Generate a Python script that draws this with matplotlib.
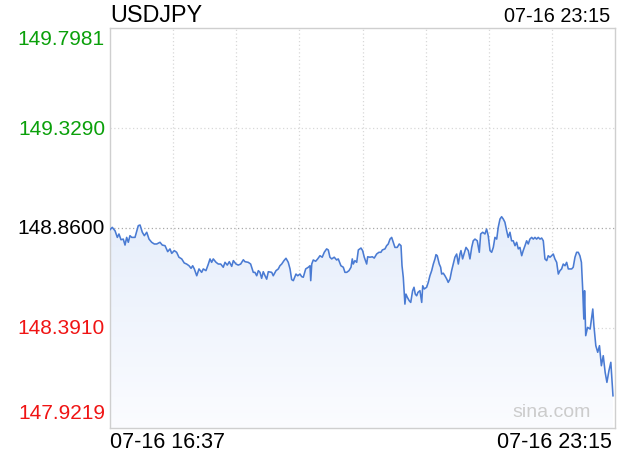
import numpy as np
import matplotlib
matplotlib.use("Agg")
import matplotlib.pyplot as plt
from matplotlib.colors import LinearSegmentedColormap
from matplotlib.patches import PathPatch

plt.rcParams['font.family'] = ['Liberation Sans', 'DejaVu Sans']

symbol = "USDJPY"
start_label = "07-16 16:37"
end_label = "07-16 23:15"
watermark = "sina.com"

# minutes since 16:37
minutes = [0, 1.8, 4.0, 5.8, 7.1, 8.7, 10.5, 11.9, 13.2, 14.5, 15.8, 17.2, 19.8, 22.4, 23.8, 25.6,
           27.2, 29.1, 30.9, 33.0, 35.1, 37.0, 39.6, 41.4, 43.6, 45.7, 47.5, 48.9, 50.9, 52.8, 54.6,
           56.8, 58.8, 60.7, 62.6, 64.2, 65.5, 66.8, 68.7, 70.5, 72.6, 73.9, 76.0, 77.9, 79.2, 80.5,
           81.8, 84.0, 85.8, 87.7, 89.7, 91.1, 92.9, 94.5, 96.4, 97.7, 99.8, 101.6, 103.5, 105.6,
           106.9, 109.5, 111.4, 113.5, 114.8, 116.2, 117.5, 118.8, 120.1, 121.4, 122.8, 124.1, 125.4,
           128.1, 129.3, 131.5, 133.3, 134.6, 136.0, 137.8, 139.4, 141.2, 142.6, 143.9, 145.2, 147.3,
           148.7, 150.5, 151.8, 153.1, 155.0, 157.1, 158.4, 159.0, 159.8, 161.0, 162.9, 164.5, 166.3,
           168.1, 169.7, 171.6, 172.9, 174.2, 175.6, 177.6, 179.5, 180.8, 182.9, 184.8, 186.1, 187.5,
           189.3, 190.9, 191.9, 192.7, 194.0, 195.4, 196.7, 198.8, 200.1, 201.4, 203.3, 204.1, 205.9,
           207.8, 209.3, 211.2, 213.0, 214.6, 215.7, 217.8, 219.1, 220.4, 221.8, 223.1, 224.4, 225.7,
           227.5, 229.1, 230.5, 231.3, 232.3, 233.6, 234.4, 235.5, 237.0, 238.2, 239.7, 240.8, 241.8,
           242.9, 243.9, 245.5, 246.9, 247.7, 248.9, 250.8, 252.1, 253.4, 254.8, 256.1, 257.4, 258.2,
           259.2, 260.8, 261.9, 262.7, 264.0, 265.3, 266.7, 267.9, 269.3, 270.6, 271.9, 273.2, 274.6,
           275.9, 277.2, 278.0, 279.3, 280.4, 282.0, 283.8, 285.1, 286.5, 287.7, 289.1, 290.9, 292.5,
           293.6, 295.2, 297.0, 298.3, 299.6, 301.0, 302.3, 303.6, 304.9, 306.3, 307.5, 308.9, 310.2,
           311.5, 312.8, 314.2, 315.4, 316.8, 318.1, 319.4, 320.8, 322.1, 323.4, 324.7, 326.1, 327.3,
           328.7, 330.0, 331.3, 332.6, 334.0, 335.3, 336.6, 337.9, 339.2, 340.6, 341.9, 343.2, 344.5,
           345.9, 347.1, 348.5, 349.8, 351.1, 352.4, 353.8, 355.1, 356.4, 357.7, 359.0, 360.4, 361.7,
           363.0, 364.3, 365.7, 366.9, 368.3, 369.6, 370.9, 372.2, 373.4, 374.4, 375.3, 375.9, 376.8,
           378.3, 380.3, 382.4, 383.3, 384.8, 386.3, 387.7, 389.2, 390.7, 392.2, 393.6, 395.2, 396.7,
           398.4]

prices = [148.852, 148.863, 148.847, 148.816, 148.832, 148.805, 148.808, 148.780, 148.816, 148.793,
          148.824, 148.816, 148.816, 148.871, 148.874, 148.840, 148.824, 148.840, 148.808, 148.793,
          148.785, 148.785, 148.793, 148.780, 148.777, 148.749, 148.762, 148.741, 148.754, 148.746,
          148.723, 148.715, 148.696, 148.691, 148.683, 148.671, 148.683, 148.668, 148.636, 148.668,
          148.652, 148.668, 148.660, 148.691, 148.715, 148.699, 148.715, 148.699, 148.691, 148.691,
          148.676, 148.699, 148.686, 148.702, 148.680, 148.707, 148.691, 148.686, 148.691, 148.711,
          148.702, 148.699, 148.691, 148.652, 148.652, 148.636, 148.660, 148.652, 148.624, 148.655,
          148.636, 148.620, 148.655, 148.652, 148.636, 148.660, 148.668, 148.683, 148.691, 148.707,
          148.718, 148.699, 148.668, 148.618, 148.613, 148.644, 148.636, 148.644, 148.632, 148.629,
          148.668, 148.676, 148.683, 148.613, 148.691, 148.710, 148.704, 148.715, 148.730, 148.723,
          148.746, 148.762, 148.757, 148.723, 148.715, 148.723, 148.710, 148.715, 148.683, 148.676,
          148.652, 148.652, 148.660, 148.676, 148.715, 148.691, 148.707, 148.699, 148.757, 148.766,
          148.754, 148.723, 148.691, 148.725, 148.723, 148.725, 148.719, 148.738, 148.746, 148.746,
          148.757, 148.762, 148.777, 148.785, 148.808, 148.816, 148.793, 148.769, 148.769, 148.785,
          148.777, 148.683, 148.629, 148.503, 148.550, 148.535, 148.519, 148.511, 148.566, 148.582,
          148.550, 148.542, 148.558, 148.566, 148.511, 148.589, 148.574, 148.582, 148.605, 148.636,
          148.660, 148.691, 148.715, 148.735, 148.730, 148.691, 148.676, 148.644, 148.648, 148.636,
          148.621, 148.605, 148.621, 148.660, 148.691, 148.723, 148.738, 148.691, 148.738, 148.754,
          148.715, 148.738, 148.769, 148.754, 148.715, 148.769, 148.800, 148.808, 148.800, 148.746,
          148.832, 148.840, 148.832, 148.855, 148.824, 148.754, 148.746, 148.769, 148.816, 148.808,
          148.863, 148.902, 148.913, 148.902, 148.887, 148.847, 148.816, 148.840, 148.800, 148.800,
          148.777, 148.793, 148.762, 148.769, 148.730, 148.754, 148.777, 148.800, 148.785, 148.808,
          148.816, 148.808, 148.816, 148.808, 148.816, 148.808, 148.813, 148.800, 148.715, 148.707,
          148.730, 148.723, 148.730, 148.738, 148.715, 148.699, 148.644, 148.660, 148.668, 148.691,
          148.683, 148.699, 148.668, 148.668, 148.668, 148.676, 148.723, 148.746, 148.746, 148.730,
          148.699, 148.574, 148.433, 148.566, 148.355, 148.394, 148.386, 148.480, 148.402, 148.308,
          148.277, 148.308, 148.214, 148.261, 148.183, 148.136, 148.191, 148.230, 148.073]

y_ticks = [147.9219, 148.3910, 148.8600, 149.3290, 149.7981]
y_tick_labels = ["147.9219", "148.3910", "148.8600", "149.3290", "149.7981"]
y_tick_colors = ["#f01414", "#f01414", "#000000", "#0aa00a", "#0aa00a"]

x_total = 400
x_grid = [50, 100, 150, 200, 250, 300, 350]

W, H = 620, 460
fig = plt.figure(figsize=(W / 100, H / 100), dpi=100)
ax = fig.add_axes([110 / W, 1 - 429 / H, 505 / W, 400 / H])
ymin, ymax = y_ticks[0], y_ticks[-1]
ax.set_xlim(0, x_total)
ax.set_ylim(ymin, ymax)

# grid
for gx in x_grid:
    ax.axvline(gx, color="#d8d8d8", lw=0.9, ls=(0, (1, 2)), zorder=1)
for gy in y_ticks[1:-1]:
    if gy == y_ticks[2]:
        ax.axhline(gy, color="#a8a8a8", lw=0.9, ls=(0, (1, 2)), zorder=1)
    else:
        ax.axhline(gy, color="#d8d8d8", lw=0.9, ls=(0, (1, 2)), zorder=1)

# gradient fill under line
x = np.array(minutes)
y = np.array(prices)
cmap = LinearSegmentedColormap.from_list("g", ["#fbfcff", "#e6eefb"])
grad = np.linspace(0, 1, 256).reshape(-1, 1)
im = ax.imshow(grad, cmap=cmap, aspect="auto", origin="lower",
               extent=[0, x_total, ymin, y.max()], zorder=2)
poly = ax.fill_between(x, y, ymin, color="none", lw=0)
path = poly.get_paths()[0]
patch = PathPatch(path, transform=ax.transData, facecolor="none", edgecolor="none")
ax.add_patch(patch)
im.set_clip_path(patch)

ax.plot(x, y, color="#4a7bd3", lw=1.15, zorder=3)

ax.set_xticks([])
ax.set_yticks([])
for s in ax.spines.values():
    s.set_color("#cfcfcf")
    s.set_linewidth(1.0)

# y labels
for i, (v, lab, c) in enumerate(zip(y_ticks, y_tick_labels, y_tick_colors)):
    if i == 0:
        fig.text(105 / W, 1 - 414 / H, lab, color=c, fontsize=15, ha="right", va="center")
    elif i == len(y_ticks) - 1:
        fig.text(105 / W, 1 - 40 / H, lab, color=c, fontsize=15, ha="right", va="center")
    else:
        ax.text(-5 / 505 * x_total, v, lab, color=c, fontsize=15, ha="right", va="center",
                transform=ax.transData, clip_on=False)

fig.text(110 / W, 1 - 16 / H, symbol, fontsize=16.8, ha="left", va="center", color="#000")
fig.text(610 / W, 1 - 17 / H, end_label, fontsize=14.3, ha="right", va="center", color="#000")
fig.text(110 / W, 1 - 443 / H, start_label, fontsize=15.5, ha="left", va="center", color="#000")
fig.text(612 / W, 1 - 443 / H, end_label, fontsize=15.5, ha="right", va="center", color="#000")
fig.text(591 / W, 1 - 413 / H, watermark, fontsize=14, ha="right", va="center", color="#cccccc")

fig.savefig("out.png", dpi=100)
